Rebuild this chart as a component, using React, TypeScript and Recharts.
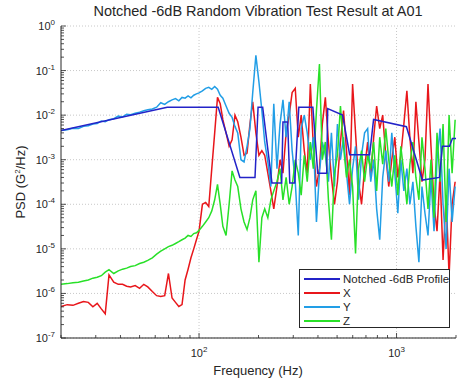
import { LineChart, Line, XAxis, YAxis, ReferenceLine } from "recharts";

// measured response, shared frequency grid (Hz)
const freq = [
  20, 21.5, 23, 24.5, 26, 27.5, 29, 30.5, 32, 33.5,
  35, 37, 39, 41, 43, 45, 47.5, 50, 52.5, 55,
  58, 61, 64, 67, 70, 73, 76, 79, 82, 85,
  88, 91, 94, 97, 100, 104, 108, 112, 116, 120,
  124, 128, 132, 137, 142, 147, 152, 157, 163, 169,
  175, 181, 187, 194, 201,
  208, 215, 223, 231, 239, 248, 257, 266, 276, 286,
  296, 307, 318, 329, 341, 353, 366, 379, 393, 407,
  421, 436, 452, 468, 485, 502, 520, 539, 558, 578,
  599, 620, 642, 665, 689, 714, 740, 766, 793, 822,
  851, 882, 913, 946, 980, 1015, 1051, 1089, 1128, 1168,
  1210, 1253, 1298, 1345, 1393, 1443, 1494, 1548, 1603, 1661,
  1720, 1782, 1845, 1911, 1980,
];

const xPsd = [
  5.1e-7, 5.6e-7, 5.4e-7, 6.0e-7, 6.6e-7, 6.3e-7, 5.0e-7, 6.0e-7, 4.5e-7, 3.5e-7,
  2.6e-6, 1.8e-6, 1.6e-6, 1.6e-6, 1.45e-6, 1.4e-6, 1.5e-6, 1.3e-6, 1.6e-6, 1.4e-6,
  1.1e-6, 8.9e-7, 8.5e-7, 8.9e-7, 2.8e-6, 7.9e-7, 6.3e-7, 5.1e-7, 5.6e-7, 2.0e-6,
  3.5e-6, 6.3e-6, 1.0e-5, 1.6e-5, 2.5e-5, 1.0e-4, 1.1e-4, 8.9e-5, 6.3e-4, 4.0e-3,
  2.5e-2, 1.8e-2, 7.9e-3, 4.0e-3, 2.0e-3, 2.8e-3, 1.0e-2, 7.1e-3, 3.2e-3, 1.26e-3,
  1.4e-3, 6.3e-3, 2.0e-2, 4.0e-3, 1.26e-3,
  1.6e-3, 1.26e-3, 5.0e-4, 2.0e-4, 7.9e-5, 2.5e-4, 1.0e-3, 5.0e-4, 4.0e-3, 1.0e-2,
  3.2e-2, 4.0e-2, 3.2e-3, 1.0e-2, 1.6e-3, 5.0e-4, 5.0e-2, 2.0e-3, 2.5e-4, 6.3e-4,
  6.3e-3, 2.5e-2, 2.5e-3, 4.0e-4, 1.0e-4, 3.2e-4, 2.5e-3, 1.26e-2, 1.6e-3, 1.6e-4,
  5.0e-2, 4.0e-3, 3.2e-4, 1.0e-4, 6.3e-4, 2.5e-3, 4.0e-4, 3.2e-3, 1.6e-2, 5.0e-3,
  1.0e-2, 1.26e-3, 2.5e-4, 1.0e-3, 3.2e-3, 4.0e-4, 1.26e-3, 6.3e-3, 3.5e-2, 3.2e-3,
  5.0e-4, 2.0e-2, 2.5e-3, 3.2e-4, 1.0e-3, 5.0e-2, 2.0e-3, 1.0e-4, 2.5e-5, 5.0e-4,
  5.6e-6, 1.6e-4, 2.5e-6, 1.0e-4, 3.2e-4,
];

const yPsd = [
  4.5e-3, 4.7e-3, 5.1e-3, 5.0e-3, 5.6e-3, 5.8e-3, 6.3e-3, 6.5e-3, 7.4e-3, 7.1e-3,
  7.9e-3, 8.3e-3, 9.5e-3, 9.1e-3, 1.05e-2, 1.02e-2, 1.1e-2, 1.17e-2, 1.26e-2, 1.32e-2,
  1.38e-2, 1.51e-2, 1.9e-2, 1.74e-2, 2.0e-2, 2.2e-2, 2.35e-2, 2.1e-2, 2.5e-2, 2.4e-2,
  2.7e-2, 2.45e-2, 2.8e-2, 3.0e-2, 3.16e-2, 3.5e-2, 4.0e-2, 4.2e-2, 3.8e-2, 4.4e-2,
  3.8e-2, 2.8e-2, 2.4e-2, 1.6e-2, 1.1e-2, 8.9e-3, 5.6e-3, 4.0e-3, 1.0e-3, 8.9e-4,
  2.0e-3, 5.0e-3, 3.2e-2, 0.22, 5.6e-2,
  1.26e-2, 2.5e-3, 8.9e-4, 2.5e-4, 1.8e-2, 6.3e-4, 6.3e-3, 2.2e-2, 3.2e-3, 2.0e-2,
  1.6e-3, 3.2e-4, 2.0e-5, 5.0e-3, 1.0e-2, 4.0e-3, 1.0e-3, 3.2e-3, 4.0e-5, 5.0e-4,
  2.5e-3, 1.26e-3, 3.2e-4, 4.0e-3, 2.5e-4, 6.3e-3, 1.0e-3, 3.2e-3, 5.0e-4, 1.0e-4,
  6.3e-4, 2.0e-3, 1.26e-4, 1.26e-3, 4.0e-3, 5.0e-3, 3.2e-4, 1.0e-3, 7.9e-5, 1.6e-5,
  4.0e-4, 1.6e-3, 3.2e-4, 4.0e-3, 5.0e-4, 6.3e-5, 1.0e-3, 2.0e-4, 6.3e-4, 1.0e-4,
  3.2e-4, 3.2e-5, 5.0e-6, 2.5e-4, 6.3e-5, 2.0e-5, 4.0e-4, 2.5e-5, 1.0e-3, 5.0e-3,
  1.0e-4, 1.0e-5, 6.3e-4, 4.0e-5, 2.5e-4,
];

const zPsd = [
  1.6e-6, 1.66e-6, 1.74e-6, 1.78e-6, 1.9e-6, 2.0e-6, 2.2e-6, 2.3e-6, 2.5e-6, 3.0e-6,
  3.4e-6, 2.8e-6, 3.2e-6, 3.5e-6, 3.7e-6, 4.0e-6, 4.2e-6, 4.7e-6, 5.0e-6, 5.5e-6,
  6.3e-6, 7.6e-6, 8.9e-6, 1.0e-5, 1.12e-5, 1.2e-5, 1.32e-5, 1.45e-5, 1.6e-5, 1.74e-5,
  2.0e-5, 1.9e-5, 2.2e-5, 2.3e-5, 2.6e-5, 3.2e-5, 4.0e-5, 5.0e-5, 7.1e-5, 1.26e-4,
  2.8e-4, 1.0e-4, 3.2e-5, 2.0e-5, 1.0e-4, 5.6e-4, 3.5e-4, 2.5e-4, 7.9e-5, 4.0e-5,
  2.7e-5, 5.0e-5, 1.26e-4, 2.0e-4, 5.0e-6,
  5.0e-5, 7.9e-5, 5.0e-5, 1.26e-4, 2.0e-4, 3.2e-4, 6.3e-4, 1.26e-4, 4.0e-4, 1.0e-4,
  2.5e-4, 1.0e-3, 5.0e-4, 1.6e-4, 1.26e-3, 3.2e-4, 2.5e-3, 6.3e-4, 1.26e-2, 0.14,
  1.0e-3, 2.5e-3, 1.26e-4, 1.6e-5, 5.0e-4, 1.26e-3, 1.6e-2, 2.0e-3, 4.0e-4, 1.0e-3,
  2.5e-4, 7.9e-6, 6.3e-4, 1.6e-3, 3.2e-4, 1.26e-3, 6.3e-4, 2.5e-3, 2.0e-4, 3.2e-3,
  7.9e-4, 5.0e-3, 1.0e-3, 2.5e-4, 1.26e-3, 1.6e-4, 2.0e-3, 5.0e-4, 1.0e-4, 7.9e-4,
  2.5e-3, 4.0e-4, 1.26e-4, 3.2e-3, 6.3e-4, 7.9e-5, 1.0e-3, 5.0e-5, 4.0e-3, 3.2e-4,
  6.3e-3, 4.0e-5, 1.0e-2, 5.0e-4, 7.9e-3,
];

// notched test profile breakpoints
const profileFreq = [
  20, 69, 125, 161, 192, 199, 210, 234, 262, 266, 281, 288, 305, 320, 377,
  399, 443, 448, 533, 579, 731, 765, 1122, 1352, 1648, 1707, 1853, 1918, 2000,
];
const profilePsd = [
  4.5e-3, 1.5e-2, 1.5e-2, 4e-4, 4e-4, 1.5e-2, 1.5e-2, 3e-4, 3e-4, 7e-3, 7e-3, 3e-4, 3e-4, 1.5e-2, 1.5e-2,
  5e-4, 5e-4, 1.4e-2, 1e-2, 1.3e-3, 1.3e-3, 8e-3, 5.5e-3, 3.5e-4, 4e-4, 2e-3, 2e-3, 3e-3, 3e-3,
];

const xMajor = [100, 1000];
const xMinor = [20, 30, 40, 50, 60, 70, 80, 90, 200, 300, 400, 500, 600, 700, 800, 900, 2000];
const yMajor = [1e-7, 1e-6, 1e-5, 1e-4, 1e-3, 1e-2, 1e-1, 1];
const yMinor = yMajor.slice(0, -1).flatMap((d) => [2, 3, 4, 5, 6, 7, 8, 9].map((k) => d * k));

const xTicks = [...xMinor, ...xMajor].sort((a, b) => a - b);
const yTicks = [...yMinor, ...yMajor].sort((a, b) => a - b);

const seriesColors = {
  profile: "#2323c8",
  x: "#e8161b",
  y: "#229ee6",
  z: "#28e028",
};

const FONT = '"Liberation Sans", Arial, Helvetica, sans-serif';
const INK = "#262626";

const chartData = freq.map((f, i) => ({ f, x: xPsd[i], y: yPsd[i], z: zPsd[i] }));
const profileData = profileFreq.map((f, i) => ({ f, p: profilePsd[i] }));

const exp10 = (v: number) => Math.round(Math.log10(v));

function BottomTick(props: any) {
  const { x, y, payload } = props;
  const major = xMajor.includes(payload.value);
  return (
    <g>
      <line x1={x} x2={x} y1={y} y2={y - (major ? 5 : 3)} stroke={INK} strokeWidth={0.8} />
      {major && (
        <text x={x} y={y + 19} textAnchor="middle" fontSize={11} fill={INK} fontFamily={FONT}>
          10<tspan dy={-5} fontSize={8}>{exp10(payload.value)}</tspan>
        </text>
      )}
    </g>
  );
}

function TopTick(props: any) {
  const { x, y, payload } = props;
  const major = xMajor.includes(payload.value);
  return <line x1={x} x2={x} y1={y} y2={y + (major ? 5 : 3)} stroke={INK} strokeWidth={0.8} />;
}

function LeftTick(props: any) {
  const { x, y, payload } = props;
  const major = yMajor.includes(payload.value);
  return (
    <g>
      <line x1={x} x2={x + (major ? 5 : 3)} y1={y} y2={y} stroke={INK} strokeWidth={0.8} />
      {major && (
        <text x={x - 6} y={y + 4} textAnchor="end" fontSize={11} fill={INK} fontFamily={FONT}>
          10<tspan dy={-5} fontSize={8}>{exp10(payload.value)}</tspan>
        </text>
      )}
    </g>
  );
}

function RightTick(props: any) {
  const { x, y, payload } = props;
  const major = yMajor.includes(payload.value);
  return <line x1={x} x2={x - (major ? 5 : 3)} y1={y} y2={y} stroke={INK} strokeWidth={0.8} />;
}

const legendItems = [
  { label: "Notched -6dB Profile", color: seriesColors.profile },
  { label: "X", color: seriesColors.x },
  { label: "Y", color: seriesColors.y },
  { label: "Z", color: seriesColors.z },
];

export default function App() {
  return (
    <div style={{ position: "absolute", left: 0, top: 0, width: 462, height: 384, fontFamily: FONT, background: "#fff" }}>
      <LineChart width={462} height={384} data={chartData} margin={{ top: 26, right: 6, bottom: 16, left: 6 }}>
        {yMajor.map((v) => (
          <ReferenceLine key={"gy" + v} y={v} stroke="#c8c8c8" strokeDasharray="1 2" />
        ))}
        {xMajor.map((v) => (
          <ReferenceLine key={"gx" + v} x={v} stroke="#c8c8c8" strokeDasharray="1 2" />
        ))}
        <XAxis
          dataKey="f"
          type="number"
          scale="log"
          domain={[20, 2000]}
          allowDataOverflow
          ticks={xTicks}
          interval={0}
          tick={<BottomTick />}
          tickLine={false}
          tickSize={0}
          tickMargin={0}
          height={30}
          axisLine={{ stroke: INK }}
        />
        <XAxis
          xAxisId="top"
          orientation="top"
          dataKey="f"
          type="number"
          scale="log"
          domain={[20, 2000]}
          allowDataOverflow
          ticks={xTicks}
          interval={0}
          tick={<TopTick />}
          tickLine={false}
          tickSize={0}
          tickMargin={0}
          height={0}
          axisLine={{ stroke: INK }}
        />
        <YAxis
          type="number"
          scale="log"
          domain={[1e-7, 1]}
          allowDataOverflow
          ticks={yTicks}
          interval={0}
          tick={<LeftTick />}
          tickLine={false}
          tickSize={0}
          tickMargin={0}
          width={55}
          axisLine={{ stroke: INK }}
        />
        <YAxis
          yAxisId="right"
          orientation="right"
          type="number"
          scale="log"
          domain={[1e-7, 1]}
          allowDataOverflow
          ticks={yTicks}
          interval={0}
          tick={<RightTick />}
          tickLine={false}
          tickSize={0}
          tickMargin={0}
          width={0}
          axisLine={{ stroke: INK }}
        />
        <Line dataKey="x" stroke={seriesColors.x} strokeWidth={1.5} dot={false} isAnimationActive={false} />
        <Line dataKey="y" stroke={seriesColors.y} strokeWidth={1.5} dot={false} isAnimationActive={false} />
        <Line dataKey="z" stroke={seriesColors.z} strokeWidth={1.5} dot={false} isAnimationActive={false} />
        <Line data={profileData} dataKey="p" stroke={seriesColors.profile} strokeWidth={1.5} dot={false} isAnimationActive={false} />
      </LineChart>

      <div style={{ position: "absolute", left: 58, top: 3, width: 400, textAlign: "center", fontSize: 14.5, color: INK, whiteSpace: "nowrap" }}>
        Notched -6dB Random Vibration Test Result at A01
      </div>
      <div style={{ position: "absolute", left: 58, top: 363, width: 400, textAlign: "center", fontSize: 13, color: INK }}>
        Frequency (Hz)
      </div>
      <div
        style={{
          position: "absolute",
          left: 20,
          top: 182,
          transform: "translate(-50%, -50%) rotate(-90deg)",
          whiteSpace: "nowrap",
          fontSize: 13,
          color: INK,
        }}
      >
        PSD (G<sup style={{ fontSize: 8, verticalAlign: "5px", lineHeight: 0 }}>2</sup>/Hz)
      </div>

      <div
        style={{
          position: "absolute",
          left: 299,
          top: 269,
          width: 151,
          height: 59,
          border: `1px solid ${INK}`,
          background: "#fff",
          boxSizing: "border-box",
          paddingTop: 2,
        }}
      >
        {legendItems.map((it) => (
          <div
            key={it.label}
            style={{ display: "flex", alignItems: "center", height: 14, fontSize: 11.5, color: INK, whiteSpace: "nowrap" }}
          >
            <div style={{ width: 36, flex: "none", height: 0, borderTop: `2px solid ${it.color}`, marginLeft: 4, marginRight: 3 }} />
            <span>{it.label}</span>
          </div>
        ))}
      </div>
    </div>
  );
}
